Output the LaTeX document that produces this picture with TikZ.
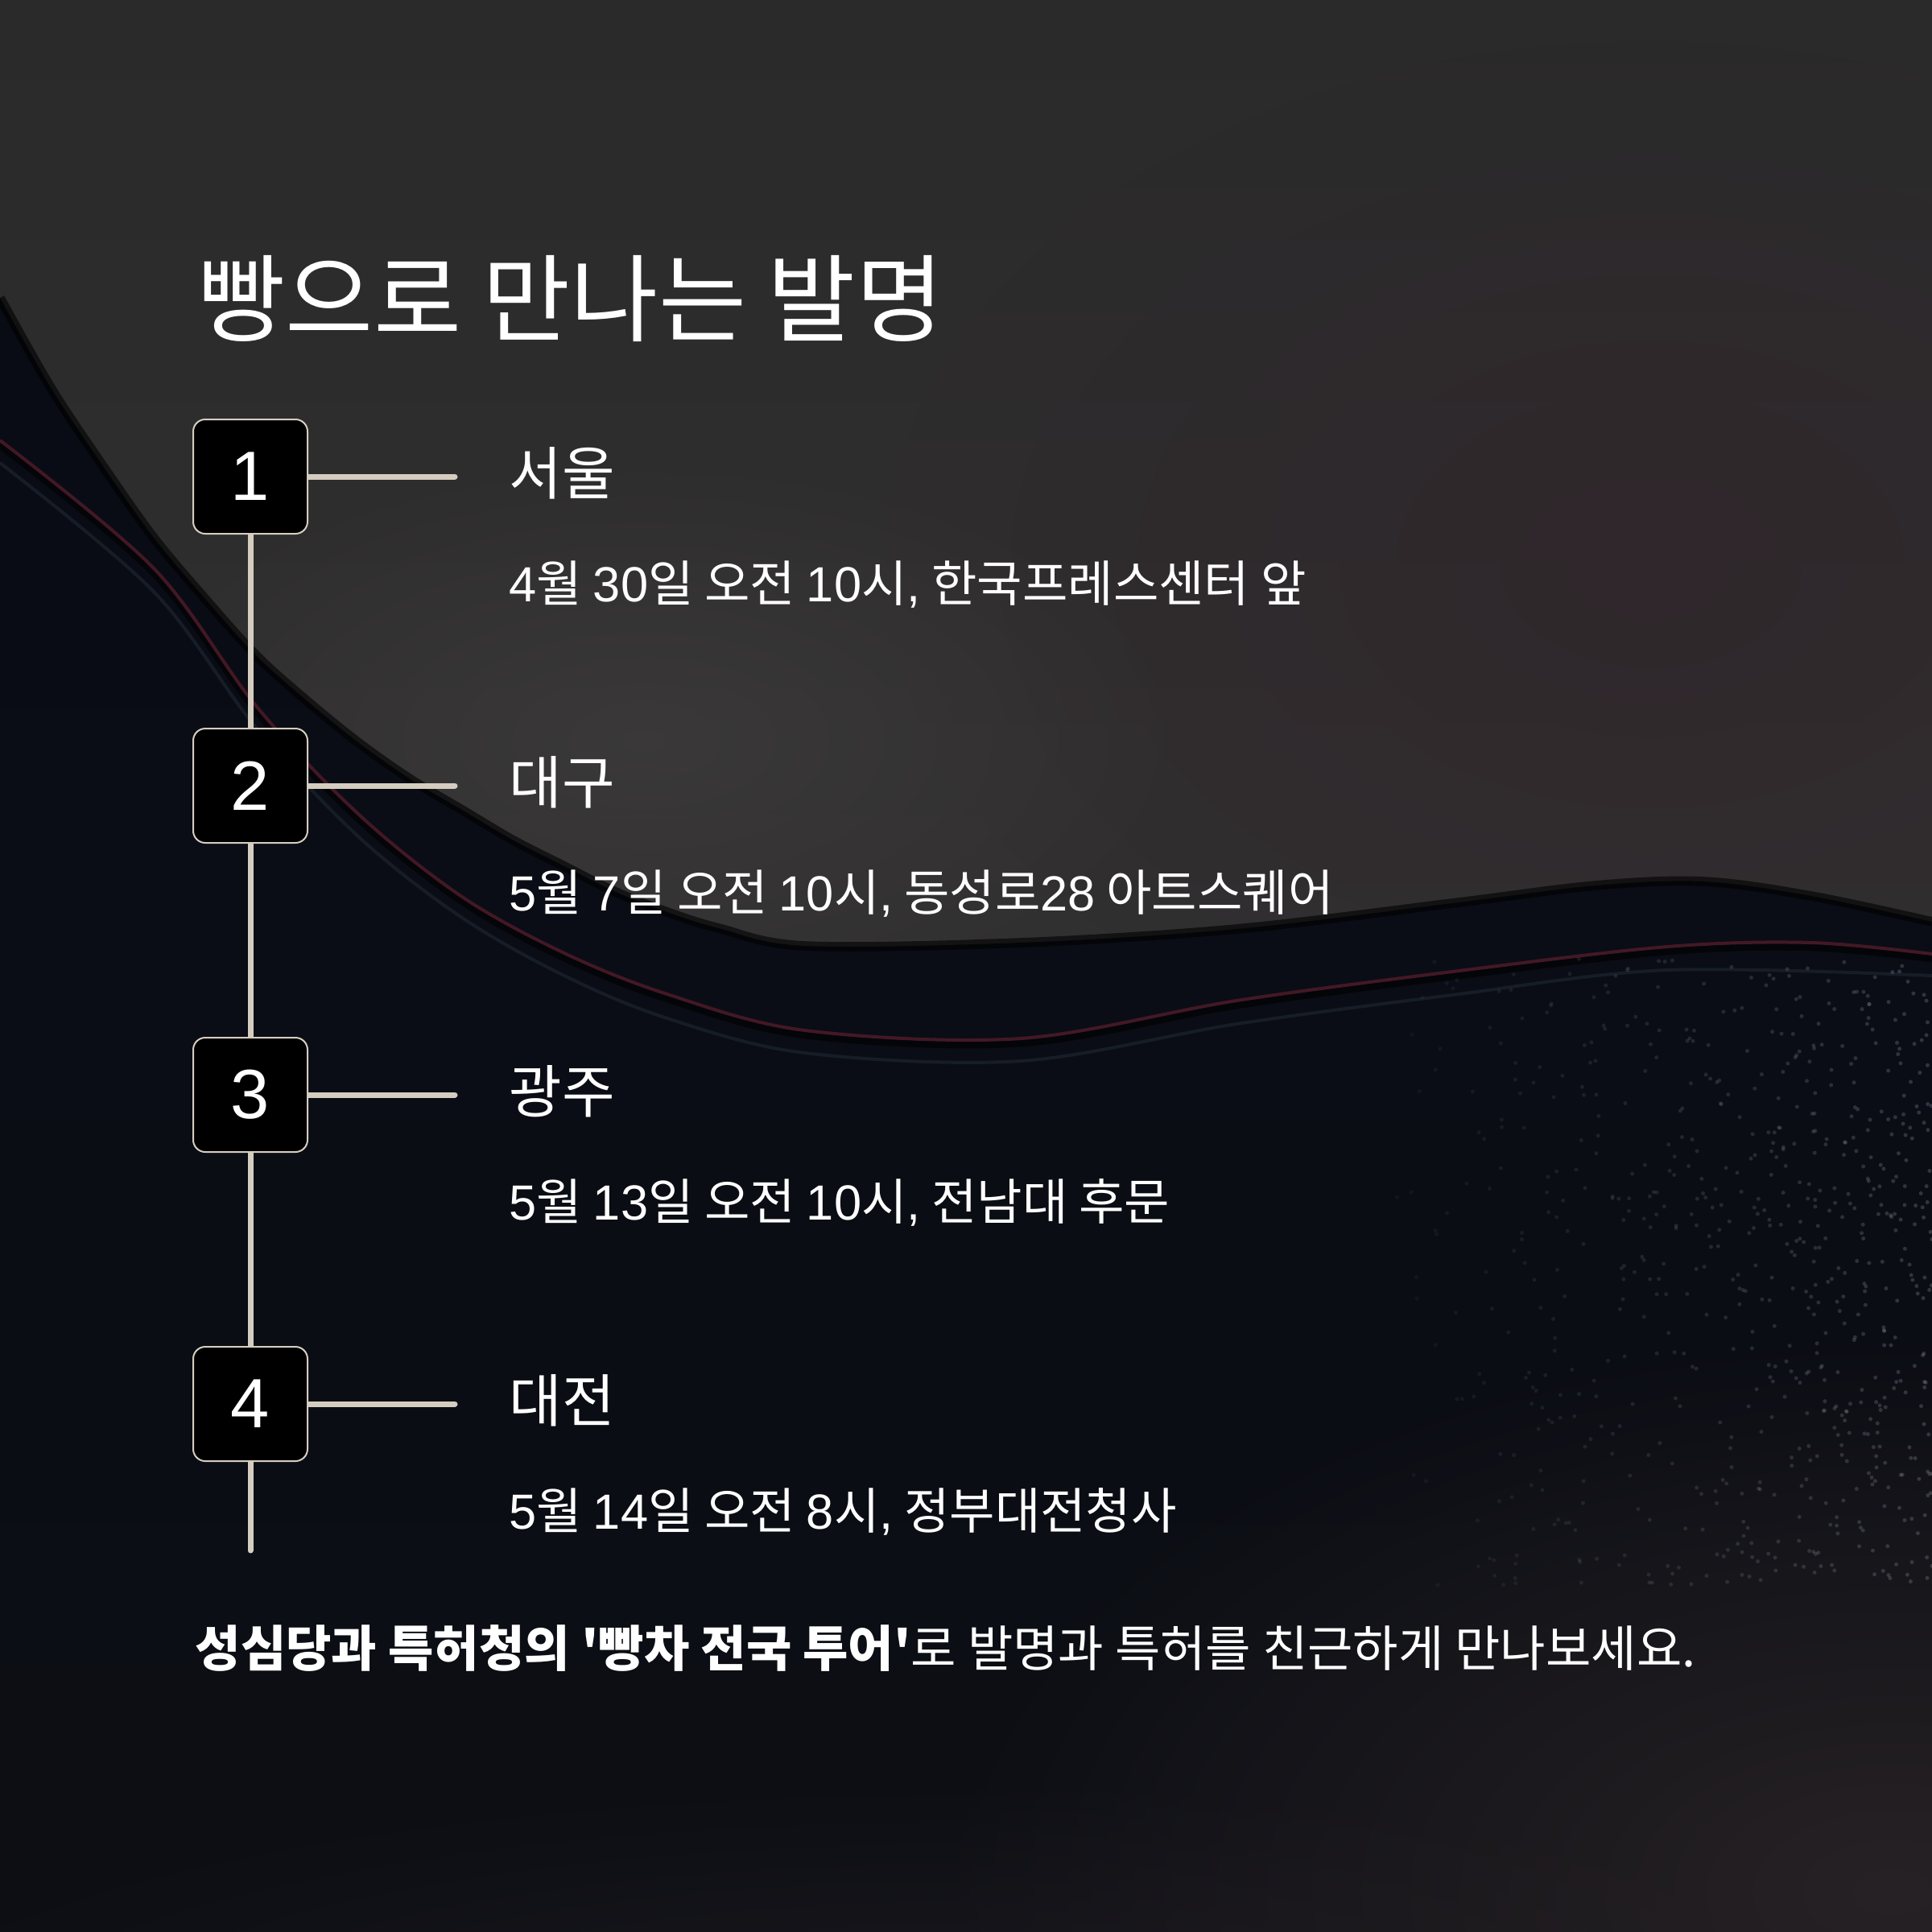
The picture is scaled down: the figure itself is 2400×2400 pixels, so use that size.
\documentclass[tikz,border=0pt]{standalone}
\usepackage{fontspec}
\newfontfamily\kr{Noto Sans CJK KR}
\newfontfamily\lib{Liberation Sans}
\newcommand{\ls}[1]{{\lib #1}}
\usetikzlibrary{fadings}
\definecolor{beige}{HTML}{D5CDBF}
\definecolor{upTop}{HTML}{2A2A2B}
\definecolor{upBot}{HTML}{333132}
\definecolor{upGlow}{HTML}{3D3B3B}
\definecolor{upRed}{HTML}{30252A}
\definecolor{navyTop}{HTML}{090C15}
\definecolor{navyBot}{HTML}{0C0E14}
\definecolor{warm}{HTML}{2A2427}
\definecolor{maroon}{HTML}{4A1A27}
\definecolor{bluish}{HTML}{26323F}
\definecolor{speck}{HTML}{8A92A0}
\tikzfading[name=softglow, inner color=transparent!0, outer color=transparent!100]
\pgfdeclarelayer{bg}
\pgfdeclarelayer{lines}
\pgfsetlayers{bg,lines,main}
\tikzset{
  numbox/.style={draw=beige, line width=0.6pt, fill=black, rounded corners=4.5pt,
    minimum width=42.6pt, minimum height=42.6pt, inner sep=0pt, text=white,
    font=\lib\fontsize{26}{26}\selectfont},
  conn/.style={draw=beige, line width=2.1pt, line cap=round},
  titletext/.style={anchor=west, inner sep=0pt, text=white, font=\kr\fontsize{35.6}{40}\selectfont},
  citytext/.style={anchor=west, inner sep=0pt, text=white, font=\kr\fontsize{21.4}{24}\selectfont},
  datetext/.style={anchor=west, inner sep=0pt, text=white, font=\kr\fontsize{18.4}{21}\selectfont},
  foottext/.style={anchor=west, inner sep=0pt, text=white, font=\kr\fontsize{18.4}{21}\selectfont},
}
\begin{document}
\begin{tikzpicture}[x=0.3pt,y=-0.3pt]
\useasboundingbox (0,0) rectangle (2400,2400);
\begin{pgfonlayer}{bg}
  % upper grey area
  \shade[top color=upTop, bottom color=upBot] (0,0) rectangle (2400,1400);
  \fill[upRed, fill opacity=0.75, path fading=softglow] (2050,700) ellipse (950 and 650);
  \fill[upGlow, fill opacity=0.8, path fading=softglow] (800,920) ellipse (700 and 360);
  % dark lower area
  \shade[top color=navyTop, bottom color=navyBot]
    plot[smooth, tension=0.55] coordinates {(0,370) (64,483) (128,579) (191,668) (255,744) (319,815) (383,872) (446,923) (510,968) (574,1006) (638,1044) (701,1076) (765,1108) (829,1133) (893,1153) (1000,1175) (1268,1171) (1536,1154) (1804,1122) (1982,1100) (2116,1095) (2250,1113) (2400,1145)}
    -- (2400,2400) -- (0,2400) -- cycle;
  % edge shadow of the wave
  \draw[black, line width=3.5pt, opacity=0.6]
    plot[smooth, tension=0.55] coordinates {(0,370) (64,483) (128,579) (191,668) (255,744) (319,815) (383,872) (446,923) (510,968) (574,1006) (638,1044) (701,1076) (765,1108) (829,1133) (893,1153) (1000,1175) (1268,1171) (1536,1154) (1804,1122) (1982,1100) (2116,1095) (2250,1113) (2400,1145)};
  % soft bluish highlight in the band
  \draw[bluish, line width=1.2pt, opacity=0.45]
    plot[smooth, tension=0.55] coordinates {(0,575) (191,735) (319,905) (446,1040) (574,1140) (701,1212) (829,1265) (1000,1308) (1268,1318) (1536,1272) (1804,1236) (2071,1205) (2400,1212)};
  % maroon line with shadow
  \draw[black, line width=2.6pt, opacity=0.55]
    plot[smooth, tension=0.55] coordinates {(0,553) (191,712) (319,884) (446,1018) (574,1120) (701,1190) (829,1241) (1000,1286) (1268,1296) (1536,1249) (1804,1213) (2071,1182) (2250,1177) (2400,1191)};
  \draw[maroon, line width=1.2pt, opacity=0.9]
    plot[smooth, tension=0.55] coordinates {(0,547) (191,706) (319,878) (446,1012) (574,1114) (701,1184) (829,1235) (1000,1280) (1268,1290) (1536,1243) (1804,1207) (2071,1176) (2250,1171) (2400,1185)};
  % warm glow bottom
  \fill[warm, fill opacity=0.9, path fading=softglow] (2350,2350) ellipse (1200 and 700);
  \fill[warm, fill opacity=0.5, path fading=softglow] (1200,2550) ellipse (1500 and 350);
  % dust specks
  \pgfmathsetseed{42}
  \foreach \i in {1,...,700}{
    \pgfmathsetmacro{\px}{1700+700*sqrt(rnd)}
    \pgfmathsetmacro{\py}{1190+780*rnd}
    \pgfmathsetmacro{\op}{0.05+0.25*(\px-1700)/700}
    \fill[speck, fill opacity=\op] (\px,\py) circle (0.75pt);
  }
\end{pgfonlayer}

% title
\node[titletext] (title) at (245,371) {빵으로 만나는 발명};

% number boxes
\node[numbox] (b1) at (311,592) {1};
\node[numbox] (b2) at (311,976) {2};
\node[numbox] (b3) at (311,1360) {3};
\node[numbox] (b4) at (311,1744) {4};

\coordinate (tail) at (311,1926);
\coordinate (h1) at (565,592);
\coordinate (h2) at (565,976);
\coordinate (h3) at (565,1360);
\coordinate (h4) at (565,1744);

\begin{pgfonlayer}{lines}
  \draw[conn] (b1.center) -- (b2.center) -- (b3.center) -- (b4.center) -- (tail);
  \draw[conn] (b1.center) -- (h1);
  \draw[conn] (b2.center) -- (h2);
  \draw[conn] (b3.center) -- (h3);
  \draw[conn] (b4.center) -- (h4);
\end{pgfonlayer}

% cities and dates
\node[citytext] (c1) at (632,588) {서울};
\node[datetext] (d1) at (632,726) {\ls{4}월 \ls{30}일 오전 \ls{10}시\ls{,} 한국프레스센터 앞};
\node[citytext] (c2) at (632,972) {대구};
\node[datetext] (d2) at (632,1110) {\ls{5}월 \ls{7}일 오전 \ls{10}시\ls{,} 동성로\ls{28} 아트스퀘어};
\node[citytext] (c3) at (632,1356) {광주};
\node[datetext] (d3) at (632,1494) {\ls{5}월 \ls{13}일 오전 \ls{10}시\ls{,} 전남대 후문};
\node[citytext] (c4) at (632,1740) {대전};
\node[datetext] (d4) at (632,1878) {\ls{5}월 \ls{14}일 오전 \ls{8}시\ls{,} 정부대전청사};

% footer
\node[foottext] (foot) at (242,2048) {{\bfseries 성심당과 특허청의 '빵차 전국 투어'}로 발명과 특허를 친근하게 만나보세요.};
\end{tikzpicture}
\end{document}
